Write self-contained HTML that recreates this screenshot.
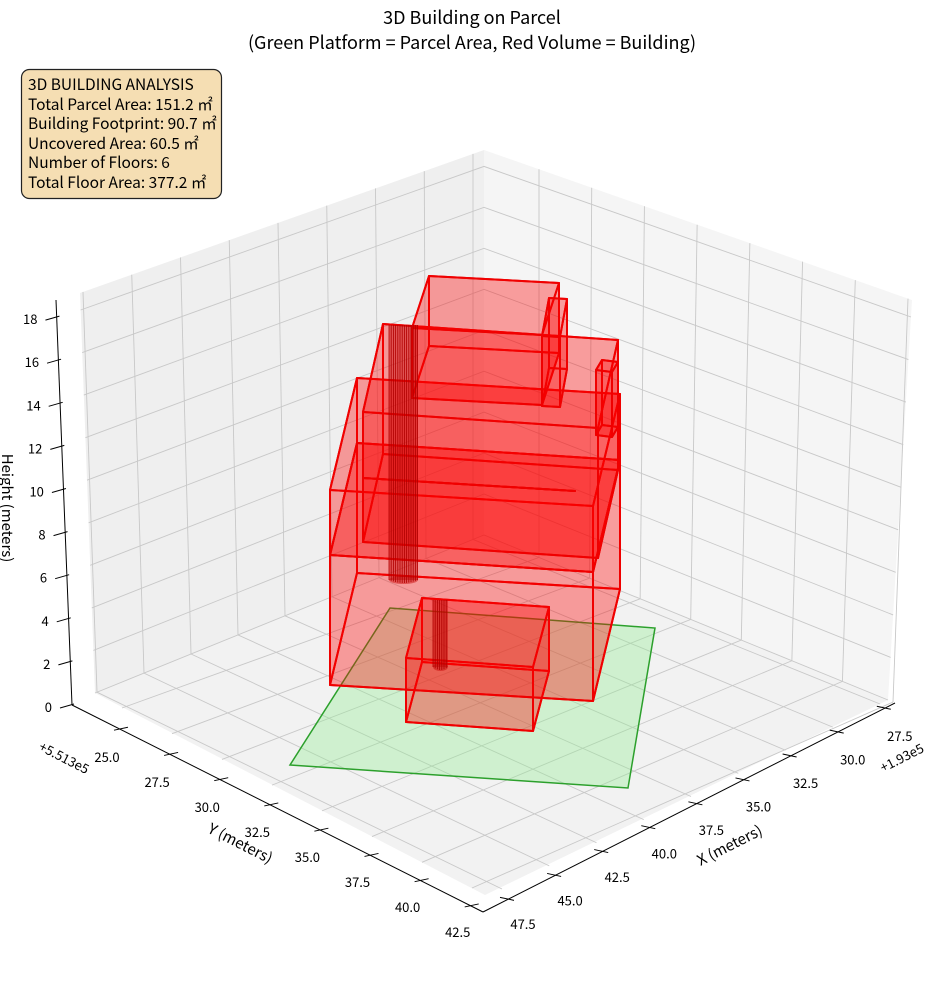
<!DOCTYPE html>
<html><head><meta charset="utf-8">
<style>
html,body{margin:0;padding:0;background:#fff;}
svg{display:block;}
text{font-family:"Noto Sans CJK JP","Liberation Sans",sans-serif;fill:#000;}
</style></head>
<body>
<svg id="s" width="944" height="992" viewBox="0 0 944 992" xmlns="http://www.w3.org/2000/svg">
<rect width="944" height="992" fill="#fff"/>
<g id="panes"></g>
<g id="grid" stroke="#c8c8c8" stroke-width="0.9" fill="none"></g>
<polygon points="290,765 628,788 655,628 390,608" fill="rgba(144,238,144,0.35)" stroke="#2ca02c" stroke-width="1.5"/>
<g id="bld"></g>
<g id="axes" stroke="#000" stroke-width="1" fill="none"></g>
<g id="labels" font-size="13"></g>
<text x="472" y="24" font-size="18" text-anchor="middle">3D Building on Parcel</text>
<text x="472" y="49" font-size="18" text-anchor="middle">(Green Platform = Parcel Area, Red Volume = Building)</text>
<rect x="21.5" y="69.5" width="200" height="129" rx="8" fill="#f5deb3" stroke="#222" stroke-width="1.2"/>
<g font-size="15.5">
<text x="28" y="90">3D BUILDING ANALYSIS</text>
<text x="28" y="110">Total Parcel Area: 151.2 ㎡</text>
<text x="28" y="129">Building Footprint: 90.7 ㎡</text>
<text x="28" y="149">Uncovered Area: 60.5 ㎡</text>
<text x="28" y="168">Number of Floors: 6</text>
<text x="28" y="188">Total Floor Area: 377.2 ㎡</text>
</g>
<text transform="translate(238,848) rotate(27)" font-size="15" text-anchor="middle">Y (meters)</text>
<text transform="translate(732,850) rotate(-27)" font-size="15" text-anchor="middle">X (meters)</text>
<text transform="translate(2,508) rotate(90)" font-size="15" text-anchor="middle">Height (meters)</text>
<text transform="translate(62,762) rotate(27)" font-size="13" text-anchor="middle">+5.513e5</text>
<text transform="translate(904,762) rotate(-27)" font-size="13" text-anchor="middle">+1.93e5</text>
</svg>
<script>
(function(){
var NS="http://www.w3.org/2000/svg";
function el(p,t,a){var e=document.createElementNS(NS,t);for(var k in a)e.setAttribute(k,a[k]);p.appendChild(e);return e;}
function pts(a){return a.map(function(p){return p[0].toFixed(1)+","+p[1].toFixed(1)}).join(" ");}
function lerp(a,b,t){return [a[0]+(b[0]-a[0])*t,a[1]+(b[1]-a[1])*t];}
var Lb=[95,693],Lt=[80,293],Bb=[484,535],Bt=[484,150],Rb=[888,700],Rt=[912,300],F=[485,895];
var panes=document.getElementById("panes");
el(panes,"polygon",{points:pts([Lb,Lt,Bt,Bb]),fill:"#efefef"});
el(panes,"polygon",{points:pts([Bb,Bt,Rt,Rb]),fill:"#f5f5f5"});
el(panes,"polygon",{points:pts([Lb,Bb,Rb,F]),fill:"#f2f2f2"});
var g=document.getElementById("grid");
function line(p,a,b){el(p,"line",{x1:a[0],y1:a[1],x2:b[0],y2:b[1]});}
var i,f,tx,tp,bx,bt,fe;
for(i=0;i<9;i++){
  f=i/8;
  tx=473+(83-473)*f;
  tp=lerp(Bt,Lt,(484-tx)/404);
  bx=tx+14*f; bt=lerp(Bb,Lb,(484-bx)/389);
  line(g,tp,bt);
  fe=lerp([880,704],[502,889],f);
  line(g,bt,fe);
}
for(i=0;i<8;i++){
  f=i/7;
  tx=539+(908-539)*f;
  tp=lerp(Bt,Rt,(tx-484)/428);
  bx=tx-15*f; bt=lerp(Bb,Rb,(bx-484)/404);
  line(g,tp,bt);
  fe=lerp([122,708],[472,888],f);
  line(g,bt,fe);
}
for(var z=0;z<=18;z+=2){
  var a=[95-15*z/18.8,693-z*400/18.8], b=[484,535-z*385/18.8], c=[888+24*z/18.8,700-z*400/18.8];
  el(g,"polyline",{points:pts([a,b,c])});
}
var bld=document.getElementById("bld");
function add(a,b){return [a[0]+b[0],a[1]+b[1]];}
function box(P,Q,d,h){
  var S=add(P,d),R=add(Q,d),hv=[0,h];
  var Pb=add(P,hv),Qb=add(Q,hv),Rb2=add(R,hv),Sb=add(S,hv);
  var faces=[[Pb,Qb,Rb2,Sb],[S,R,Rb2,Sb],[P,S,Sb,Pb],[Q,R,Rb2,Qb],[P,Q,Qb,Pb],[P,Q,R,S]];
  faces.forEach(function(fc){el(bld,"polygon",{points:pts(fc),fill:"rgba(255,0,0,0.2)",stroke:"#f00000","stroke-width":"2","stroke-linejoin":"round"});});
}
box([406,658],[533,667],[16,-60],64);
box([330,490],[593,506],[27,-112],195);
box([330,555],[593,572],[27,-112],0);
box([363,412],[598,428],[20,-88],130);
box([363,478],[575,491],[0,0],0);
box([412,328],[542,335],[17,-52],70);
box([542,336],[560,337],[7,-38],70);
box([596,370],[612,372],[6,-10],65);
function cyl(x0,x1,y0,y1){
  el(bld,"rect",{x:x0,y:y0,width:x1-x0,height:y1-y0,fill:"rgba(200,0,0,0.45)"});
  el(bld,"ellipse",{cx:(x0+x1)/2,cy:y1,rx:(x1-x0)/2,ry:4,fill:"rgba(200,0,0,0.45)"});
  for(var x=x0;x<=x1;x+=2.2){el(bld,"line",{x1:x,y1:y0,x2:x,y2:y1+3*Math.sin(Math.PI*(x-x0)/(x1-x0)),stroke:"#b00000","stroke-width":"0.8"});}
}
cyl(389,418,325,580);
cyl(433,448,600,667);
var ax=document.getElementById("axes");
line(ax,[72,705],[56,300]);
line(ax,[72,705],[483,912]);
line(ax,[483,912],[895,703]);
var lab=document.getElementById("labels");
function txt(x,y,s,anc){var t=el(lab,"text",{x:x,y:y,"text-anchor":anc||"middle"});t.textContent=s;}
var ys=["25.0","27.5","30.0","32.5","35.0","37.5","40.0","42.5"];
for(i=0;i<8;i++){
  var lx=107+50.1*i, ly=757+25*i;
  var ttx=lx+13, tty=705+(ttx-72)*0.504;
  line(ax,[ttx-6,tty+1],[ttx+8,tty-2]);
  txt(lx,ly+5,ys[i]);
}
var xs=["47.5","45.0","42.5","40.0","37.5","35.0","32.5","30.0","27.5"];
for(i=0;i<9;i++){
  var lx2=523+47.1*i, ly2=924-23.5*i;
  var ttx2=lx2-15, tty2=912-(ttx2-483)*0.507;
  line(ax,[ttx2-8,tty2-2],[ttx2+6,tty2+1]);
  txt(lx2,ly2+5,xs[i]);
}
for(var zz=0;zz<=18;zz+=2){
  var t=zz/18.8; var px=72-16*t*0.95, py=705-zz*21.55;
  line(ax,[px-12,py+3],[px+2,py-1]);
  txt(px-20,py+7,String(zz),"end");
}
})();
</script>
</body></html>
